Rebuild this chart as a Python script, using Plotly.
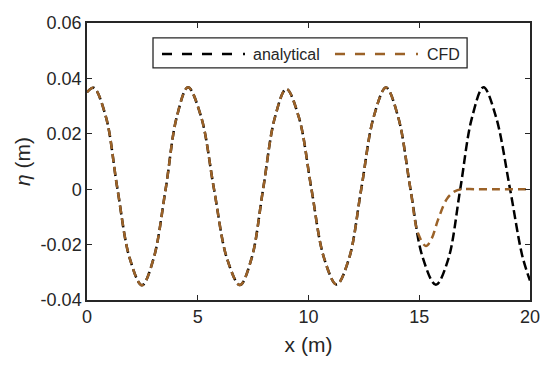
import plotly.graph_objects as go

# ---- data ----
x_analytical = [0.0, 0.3, 0.85, 1.37, 1.93, 2.48, 3.0, 3.55, 4.05, 4.56, 5.15, 5.73,
                6.32, 6.9, 7.43, 7.95, 8.48, 9.0, 9.57, 10.13, 10.7, 11.27, 11.83,
                12.38, 12.94, 13.5, 14.05, 14.6, 15.15, 15.75, 16.3, 16.85, 17.37,
                17.9, 18.45, 19.1, 19.65, 20.0]
eta_analytical = [0.0350, 0.0366, 0.0262, 0.0003, -0.0250, -0.0347, -0.0252, 0.0000,
                  0.0260, 0.0368, 0.0262, 0.0002, -0.0250, -0.0346, -0.0250, 0.0000,
                  0.0258, 0.0362, 0.0258, 0.0002, -0.0248, -0.0344, -0.0250, 0.0000,
                  0.0260, 0.0367, 0.0260, 0.0002, -0.0245, -0.0345, -0.0255, 0.0000,
                  0.0255, 0.0368, 0.0265, 0.0000, -0.0240, -0.0330]

x_cfd = [0.0, 0.3, 0.85, 1.37, 1.93, 2.48, 3.0, 3.55, 4.05, 4.56, 5.15, 5.73,
         6.32, 6.9, 7.43, 7.95, 8.48, 9.0, 9.57, 10.13, 10.7, 11.27, 11.83,
         12.38, 12.94, 13.5, 14.05, 14.6, 14.95, 15.3, 15.55, 15.85, 16.25, 16.6,
         16.9, 17.5, 18.5, 20.0]
eta_cfd = [0.0350, 0.0366, 0.0262, 0.0003, -0.0250, -0.0347, -0.0252, 0.0000,
           0.0260, 0.0368, 0.0262, 0.0002, -0.0250, -0.0346, -0.0250, 0.0000,
           0.0258, 0.0362, 0.0258, 0.0002, -0.0248, -0.0344, -0.0250, 0.0000,
           0.0260, 0.0367, 0.0260, 0.0002, -0.0160, -0.0205, -0.0180, -0.0110,
           -0.0035, -0.0008, 0.0000, 0.0000, 0.0000, 0.0000]

x_ticks = [0, 5, 10, 15, 20]
x_tick_labels = ["0", "5", "10", "15", "20"]
y_ticks = [-0.04, -0.02, 0, 0.02, 0.04, 0.06]
y_tick_labels = ["-0.04", "-0.02", "0", "0.02", "0.04", "0.06"]

series_names = ["analytical", "CFD"]
series_colors = ["#000000", "#9b6228"]

FONT = "Arial, Liberation Sans, Helvetica, sans-serif"
AXIS_COLOR = "#262626"
TEXT_COLOR = "#262626"

fig = go.Figure()
fig.add_trace(go.Scatter(
    x=x_analytical, y=eta_analytical, mode="lines", name=series_names[0],
    line=dict(color=series_colors[0], width=2.5, dash="9px,4px", shape="spline", smoothing=1.0),
    showlegend=False))
fig.add_trace(go.Scatter(
    x=x_cfd, y=eta_cfd, mode="lines", name=series_names[1],
    line=dict(color=series_colors[1], width=2.5, dash="8px,5px", shape="spline", smoothing=1.0),
    showlegend=False))

axis_common = dict(
    showgrid=False, zeroline=False, showline=True, linecolor=AXIS_COLOR, linewidth=1.5,
    mirror="ticks", ticks="inside", ticklen=5, tickwidth=1.2, tickcolor=AXIS_COLOR,
    tickfont=dict(family=FONT, size=18, color=TEXT_COLOR),
)

fig.update_xaxes(range=[0, 20], tickmode="array", tickvals=x_ticks, ticktext=x_tick_labels,
                 title=dict(text="x (m)", font=dict(family=FONT, size=21, color=TEXT_COLOR), standoff=11),
                 **axis_common)
fig.update_yaxes(range=[-0.04, 0.06], tickmode="array", tickvals=y_ticks, ticktext=y_tick_labels,
                 title=dict(text="<i>η</i> (m)", font=dict(family=FONT, size=21, color=TEXT_COLOR), standoff=4),
                 **axis_common)

# ---- legend box drawn in paper coordinates ----
shapes = [
    dict(type="rect", xref="paper", yref="paper", x0=0.149, x1=0.858, y0=0.838, y1=0.946,
         line=dict(color=AXIS_COLOR, width=1.3), fillcolor="white", layer="above"),
    dict(type="line", xref="paper", yref="paper", x0=0.1693, x1=0.3273, y0=0.888, y1=0.888,
         line=dict(color=series_colors[0], width=2.5, dash="10px,10px"), layer="above"),
    dict(type="line", xref="paper", yref="paper", x0=0.3522, x1=0.3566, y0=0.888, y1=0.888,
         line=dict(color=series_colors[0], width=2.5), layer="above"),
    dict(type="line", xref="paper", yref="paper", x0=0.5598, x1=0.7178, y0=0.888, y1=0.888,
         line=dict(color=series_colors[1], width=2.5, dash="10px,10px"), layer="above"),
    dict(type="line", xref="paper", yref="paper", x0=0.7427, x1=0.7471, y0=0.888, y1=0.888,
         line=dict(color=series_colors[1], width=2.5), layer="above"),
]
annotations = [
    dict(xref="paper", yref="paper", x=0.3702, y=0.888, xanchor="left", yanchor="middle",
         text=series_names[0], showarrow=False, font=dict(family=FONT, size=16, color=TEXT_COLOR)),
    dict(xref="paper", yref="paper", x=0.763, y=0.888, xanchor="left", yanchor="middle",
         text=series_names[1], showarrow=False, font=dict(family=FONT, size=16, color=TEXT_COLOR)),
]

# page body has an 8px default margin, so the figure is sized to fit the window
fig.update_layout(
    width=542, height=357,
    margin=dict(l=79, r=20, t=15, b=65, autoexpand=False),
    plot_bgcolor="white", paper_bgcolor="white",
    shapes=shapes, annotations=annotations,
    showlegend=False,
)

fig.write_html("out.html")
